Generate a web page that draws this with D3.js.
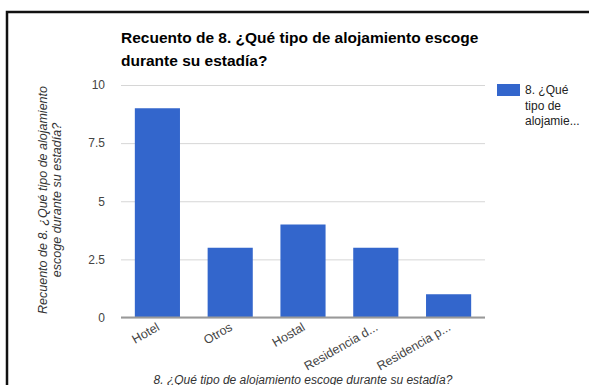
<!DOCTYPE html>
<html>
<head>
<meta charset="utf-8">
<script src="https://cdnjs.cloudflare.com/ajax/libs/d3/7.8.5/d3.min.js"></script>
<style>
  html, body { margin: 0; padding: 0; background: #fff; }
  svg { display: block; font-family: Arial, "Liberation Sans", sans-serif; }
</style>
</head>
<body>
<svg id="chart" width="589" height="385"></svg>
<script>
// Accommodation type counts
const categories = ["Hotel", "Otros", "Hostal", "Residencia d...", "Residencia p..."];
const counts = [9, 3, 4, 3, 1];
const yTicks = [0, 2.5, 5, 7.5, 10];
const titleLines = ["Recuento de 8. ¿Qué tipo de alojamiento escoge", "durante su estadía?"];
const yTitleLines = ["Recuento de 8. ¿Qué tipo de alojamiento", "escoge durante su estadía?"];
const xTitle = "8. ¿Qué tipo de alojamiento escoge durante su estadía?";
const legendLines = ["8. ¿Qué", "tipo de", "alojamie..."];

const svg = d3.select("#chart");
const plot = { left: 121, right: 485, top: 85, bottom: 317.5 };

// Frame (top and left edges)
svg.append("path")
  .attr("d", "M7,385 V12 H589")
  .attr("fill", "none")
  .attr("stroke", "#111")
  .attr("stroke-width", 2.5);

const x = d3.scaleBand().domain(categories).range([plot.left, plot.right]).paddingInner(0.38).paddingOuter(0.19);
const y = d3.scaleLinear().domain([0, 10]).range([plot.bottom, plot.top]);

// Gridlines + y tick labels
const yAxis = d3.axisLeft(y).tickValues(yTicks).tickSize(-(plot.right - plot.left)).tickPadding(16)
  .tickFormat(d => d3.format("~g")(d));
const gy = svg.append("g").attr("transform", `translate(${plot.left},0)`).call(yAxis);
gy.select(".domain").remove();
gy.selectAll(".tick line").attr("stroke", "#d6d6d6").attr("stroke-width", 1);
gy.selectAll(".tick text").attr("fill", "#444").attr("font-size", 12)
  .attr("font-family", "Arial, 'Liberation Sans', sans-serif");

// Bars
svg.append("g").selectAll("rect").data(categories).join("rect")
  .attr("x", d => x(d))
  .attr("width", x.bandwidth())
  .attr("y", (d, i) => y(counts[i]))
  .attr("height", (d, i) => y(0) - y(counts[i]))
  .attr("fill", "#3366cc");

// Baseline
svg.append("line")
  .attr("x1", plot.left).attr("x2", plot.right)
  .attr("y1", y(0)).attr("y2", y(0))
  .attr("stroke", "#999").attr("stroke-width", 2);

// X axis category labels (rotated)
const xAxis = d3.axisBottom(x).tickSize(0).tickPadding(0);
const gx = svg.append("g").attr("transform", `translate(0,${y(0)})`).call(xAxis);
gx.select(".domain").remove();
gx.selectAll(".tick text")
  .attr("fill", "#444").attr("font-size", 12.5)
  .attr("font-family", "Arial, 'Liberation Sans', sans-serif")
  .attr("text-anchor", "end")
  .attr("dy", 0)
  .attr("transform", "translate(3,12) rotate(-30)");

// Title
svg.append("text")
  .attr("x", 121).attr("y", 43)
  .attr("font-size", 15.5).attr("font-weight", "bold").attr("fill", "#000")
  .selectAll("tspan").data(titleLines).join("tspan")
  .attr("x", 121).attr("dy", (d, i) => i === 0 ? 0 : 23)
  .text(d => d);

// Y axis title
svg.append("text")
  .attr("transform", "translate(47,200) rotate(-90)")
  .attr("text-anchor", "middle")
  .attr("font-size", 12.5).attr("font-style", "italic").attr("fill", "#333")
  .selectAll("tspan").data(yTitleLines).join("tspan")
  .attr("x", 0).attr("dy", (d, i) => i === 0 ? 0 : 14)
  .text(d => d);

// X axis title
svg.append("text")
  .attr("x", 303).attr("y", 384)
  .attr("text-anchor", "middle")
  .attr("font-size", 12).attr("font-style", "italic").attr("fill", "#333")
  .text(xTitle);

// Legend
svg.append("rect")
  .attr("x", 497).attr("y", 84).attr("width", 23).attr("height", 12)
  .attr("fill", "#3366cc");
svg.append("text")
  .attr("font-size", 12).attr("fill", "#222")
  .selectAll("tspan").data(legendLines).join("tspan")
  .attr("x", 525).attr("y", (d, i) => 94 + i * 15.5)
  .text(d => d);
</script>
</body>
</html>
